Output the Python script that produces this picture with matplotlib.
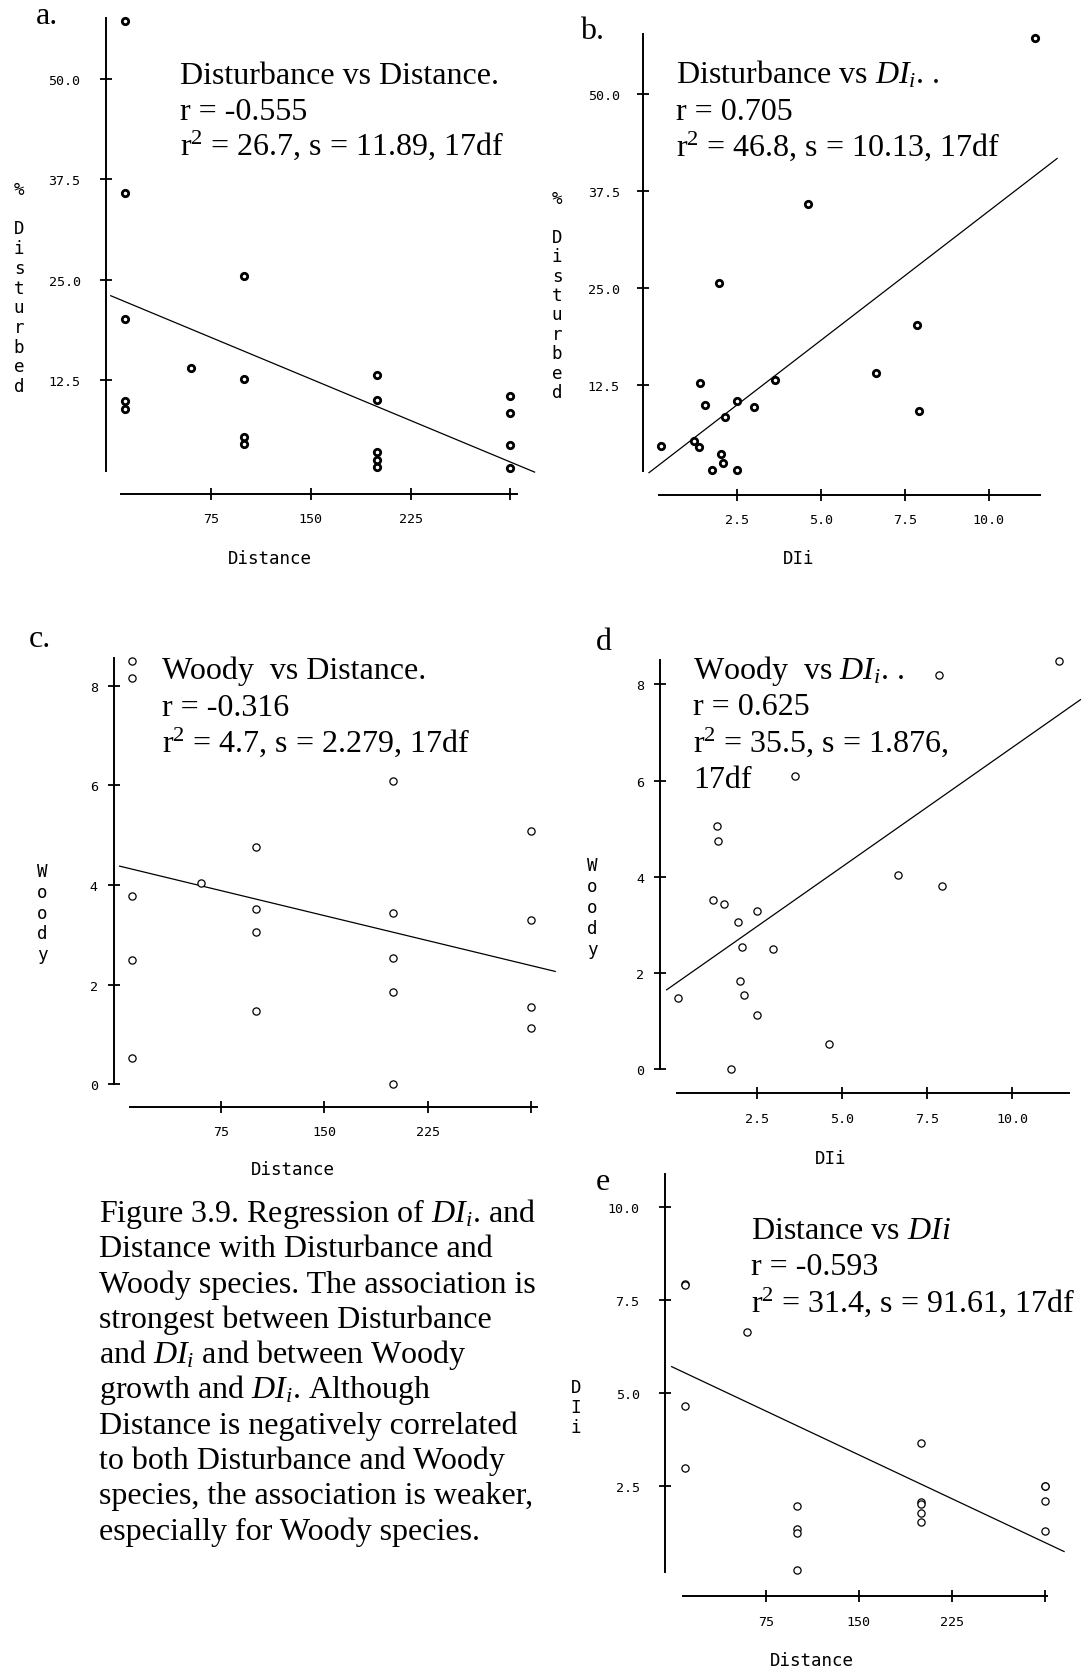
import numpy as np
import matplotlib.pyplot as plt

plt.rcParams['font.family'] = 'DejaVu Sans Mono'
plt.rcParams['mathtext.fontset'] = 'custom'
plt.rcParams['mathtext.rm'] = 'Liberation Serif'
plt.rcParams['mathtext.it'] = 'Liberation Serif:italic'
plt.rcParams['mathtext.default'] = 'regular'

#------------- values -------------#

# a. % disturbed vs distance
dist_a = [10, 10, 10, 10, 10, 60, 100, 100, 100, 100, 200, 200, 200, 200, 200, 300, 300, 300, 300]
disturbed_a = [57.2, 35.8, 20.1, 9.9, 8.9, 14.0, 25.5, 12.6, 5.4, 4.6, 13.1, 10.0, 3.6, 2.6, 1.7, 10.5, 8.4, 4.4, 1.6]

# b. % disturbed vs DIi
dii_b = [11.38, 4.62, 1.97, 7.87, 6.63, 1.39, 3.62, 1.55, 2.50, 2.99, 7.92, 2.14, 0.23, 1.22, 1.35, 2.02, 2.09, 1.76, 2.50]
disturbed_b = [57.3, 35.9, 25.6, 20.2, 14.0, 12.7, 13.1, 9.9, 10.4, 9.7, 9.1, 8.4, 4.7, 5.3, 4.5, 3.6, 2.5, 1.5, 1.5]

# c. woody vs distance
dist_c = [10, 10, 10, 10, 10, 60, 100, 100, 100, 100, 200, 200, 200, 200, 200, 300, 300, 300, 300]
woody_c = [8.49, 8.16, 3.78, 2.49, 0.52, 4.03, 4.76, 3.51, 3.05, 1.47, 6.09, 3.44, 2.53, 1.86, 0.00, 5.08, 3.29, 1.55, 1.13]

# d. woody vs DIi
dii_d = [11.37, 7.85, 3.62, 1.33, 1.38, 6.65, 7.93, 1.21, 1.53, 2.50, 1.96, 2.07, 2.97, 2.01, 2.13, 0.20, 2.50, 4.63, 1.74]
woody_d = [8.49, 8.19, 6.10, 5.05, 4.75, 4.04, 3.81, 3.51, 3.43, 3.28, 3.06, 2.53, 2.49, 1.84, 1.54, 1.47, 1.13, 0.52, 0.00]

# e. DIi vs distance (the 11.38 site sits above the plotted window)
dist_e = [10, 10, 10, 10, 10, 60, 100, 100, 100, 100, 200, 200, 200, 200, 200, 300, 300, 300, 300]
dii_e = [11.38, 7.94, 7.90, 4.64, 2.98, 6.64, 1.94, 1.33, 1.23, 0.23, 3.64, 2.05, 2.00, 1.77, 1.51, 2.48, 2.48, 2.08, 1.29]

dist_ticks = [75, 150, 225, 300]
dist_ticklabels = ['75', '150', '225', '']
dii_ticks = [2.5, 5.0, 7.5, 10.0]
dii_ticklabels = ['2.5', '5.0', '7.5', '10.0']
disturbed_ticks = [12.5, 25.0, 37.5, 50.0]
woody_ticks = [0, 2, 4, 6, 8]
dii_yticks = [2.5, 5.0, 7.5, 10.0]

DII = r'$\mathit{DI_i}$'
caption = [
    'Figure 3.9. Regression of ' + DII + '. and',
    'Distance with Disturbance and',
    'Woody species. The association is',
    'strongest between Disturbance',
    'and ' + DII + ' and between Woody',
    'growth and ' + DII + '. Although',
    'Distance is negatively correlated',
    'to both Disturbance and Woody',
    'species, the association is weaker,',
    'especially for Woody species.',
]

W, H = 1081, 1674
SERIF = 'Liberation Serif'
TEXT_SIZE = 23


def box(left, top, right, bottom):
    return [left / W, 1 - bottom / H, (right - left) / W, (bottom - top) / H]


def at(x, y):
    return x / W, 1 - y / H


panels = [
    dict(x=dist_a, y=disturbed_a, bold=True, letter='a.', letter_at=(36, 24),
         box=(105.5, 18.5, 517.3, 494.5), xlim=(-4.3, 305.2), ylim=(-1.62, 57.67),
         xbounds=(7.4, 305.2), ybounds=(1.15, 57.67), fit_x=(-0.4, 318.2),
         xticks=dist_ticks, xticklabels=dist_ticklabels,
         yticks=disturbed_ticks, yticklabels=['12.5', '25.0', '37.5', '50.0'],
         xpad=9.5, ypad=14,
         xlabel='Distance', xlabel_at=(270, 559),
         ylabel='% Disturbed', ylabel_at=(19, 190), ylabel_step=19.7,
         note=['Disturbance vs Distance.', 'r = -0.555', r'r$^2$ = 26.7, s = 11.89, 17df'],
         note_at=(180, 84), note_step=35.5),
    dict(x=dii_b, y=disturbed_b, bold=True, letter='b.', letter_at=(580, 39),
         box=(643.1, 35.1, 1040, 495.6), xlim=(-0.306, 11.53), ylim=(-1.63, 57.76),
         xbounds=(0.18, 11.53), ybounds=(1.37, 57.76), fit_x=(-0.13, 12.04),
         xticks=dii_ticks, xticklabels=dii_ticklabels,
         yticks=disturbed_ticks, yticklabels=['12.5', '25.0', '37.5', '50.0'],
         xpad=9, ypad=12.8,
         xlabel='DIi', xlabel_at=(799, 559),
         ylabel='% Disturbed', ylabel_at=(557, 199), ylabel_step=19.4,
         note=['Disturbance vs ' + DII + '. .', 'r = 0.705', r'r$^2$ = 46.8, s = 10.13, 17df'],
         note_at=(676, 84), note_step=36),
    dict(x=dist_c, y=woody_c, bold=False, letter='c.', letter_at=(29, 647),
         box=(113.6, 658.6, 537.5, 1108.2), xlim=(-3.43, 305.0), ylim=(-0.458, 8.56),
         xbounds=(8.8, 305.0), ybounds=(0.0, 8.56), fit_x=(0.96, 317.9),
         xticks=dist_ticks, xticklabels=dist_ticklabels,
         yticks=woody_ticks, yticklabels=['0', '2', '4', '6', '8'],
         xpad=9, ypad=7.5,
         xlabel='Distance', xlabel_at=(293, 1170),
         ylabel='Woody', ylabel_at=(42, 872), ylabel_step=20.8,
         note=['Woody  vs Distance.', 'r = -0.316', r'r$^2$ = 4.7, s = 2.279, 17df'],
         note_at=(162, 679), note_step=36.5),
    dict(x=dii_d, y=woody_d, bold=False, letter='d', letter_at=(596, 650),
         box=(660, 661.1, 1069.3, 1094.3), xlim=(-0.335, 11.67), ylim=(-0.505, 8.505),
         xbounds=(0.17, 11.67), ybounds=(0.0, 8.505), fit_x=(-0.14, 12.0),
         xticks=dii_ticks, xticklabels=dii_ticklabels,
         yticks=woody_ticks, yticklabels=['0', '2', '4', '6', '8'],
         xpad=9.5, ypad=7.2,
         xlabel='DIi', xlabel_at=(831, 1159),
         ylabel='Woody', ylabel_at=(592, 866), ylabel_step=21,
         note=['Woody  vs ' + DII + '. .', 'r = 0.625', r'r$^2$ = 35.5, s = 1.876,', '17df'],
         note_at=(693, 679), note_step=36.3),
    dict(x=dist_e, y=dii_e, bold=False, letter='e', letter_at=(596, 1190),
         box=(665.3, 1175, 1046.7, 1596.7), xlim=(-5.8, 301.3), ylim=(-0.465, 10.9),
         xbounds=(8.7, 301.3), ybounds=(0.165, 10.9), fit_x=(-0.7, 315.3),
         xticks=dist_ticks, xticklabels=dist_ticklabels,
         yticks=dii_yticks, yticklabels=['2.5', '5.0', '7.5', '10.0'],
         xpad=10, ypad=14.5,
         xlabel='Distance', xlabel_at=(812, 1661),
         ylabel='DIi', ylabel_at=(576, 1388), ylabel_step=20,
         note=['Distance vs $\\mathit{DIi}$', 'r = -0.593', r'r$^2$ = 31.4, s = 91.61, 17df'],
         note_at=(751, 1239), note_step=36.3),
]


def draw_panel(fig, p):
    """
    One regression panel: detached axes, open circles and the fitted line
    """
    ax = fig.add_axes(box(*p['box']))
    ax.set_xlim(p['xlim'])
    ax.set_ylim(p['ylim'])
    ax.patch.set_visible(False)
    for side in ['top', 'right']:
        ax.spines[side].set_visible(False)
    for side in ['left', 'bottom']:
        ax.spines[side].set_linewidth(1.4)
    ax.spines['left'].set_bounds(*p['ybounds'])
    ax.spines['bottom'].set_bounds(*p['xbounds'])

    ax.set_xticks(p['xticks'])
    ax.set_xticklabels(p['xticklabels'])
    ax.set_yticks(p['yticks'])
    ax.set_yticklabels(p['yticklabels'])
    ax.tick_params(direction='inout', length=8, width=1.3, labelsize=9.6)
    ax.tick_params(axis='x', pad=p['xpad'])
    ax.tick_params(axis='y', pad=p['ypad'])

    x = np.array(p['x'], dtype=float)
    y = np.array(p['y'], dtype=float)
    slope, intercept = np.polyfit(x, y, 1)
    xs = np.array(p['fit_x'])
    ax.plot(xs, intercept + slope * xs, color='black', lw=0.9, clip_on=False)

    shown = y <= p['ylim'][1]
    if p['bold']:
        ax.plot(x[shown], y[shown], 'o', ms=4.6, mew=2.0, mfc='white', mec='black', clip_on=False)
    else:
        ax.plot(x[shown], y[shown], 'o', ms=5.2, mew=0.9, mfc='white', mec='black', clip_on=False)

    fig.text(*at(*p['xlabel_at']), p['xlabel'], ha='center', va='center', fontsize=12.6)
    lx, ly = p['ylabel_at']
    for i, ch in enumerate(p['ylabel']):
        fig.text(*at(lx, ly + i * p['ylabel_step']), ch, ha='center', va='center', fontsize=12.6)

    nx, ny = p['note_at']
    for i, line in enumerate(p['note']):
        fig.text(*at(nx, ny + i * p['note_step']), line, ha='left', va='baseline',
                 fontsize=TEXT_SIZE, family=SERIF)
    fig.text(*at(*p['letter_at']), p['letter'], ha='left', va='baseline',
             fontsize=TEXT_SIZE, family=SERIF)
    return ax


def main():
    fig = plt.figure(figsize=(W / 100, H / 100), dpi=100)
    fig.patch.set_facecolor('white')
    for p in panels:
        draw_panel(fig, p)

    for i, line in enumerate(caption):
        fig.text(*at(99, 1222 + i * 35.3), line, ha='left', va='baseline',
                 fontsize=TEXT_SIZE, family=SERIF)

    fig.savefig('out.png', dpi=100)


if __name__ == '__main__':
    main()
